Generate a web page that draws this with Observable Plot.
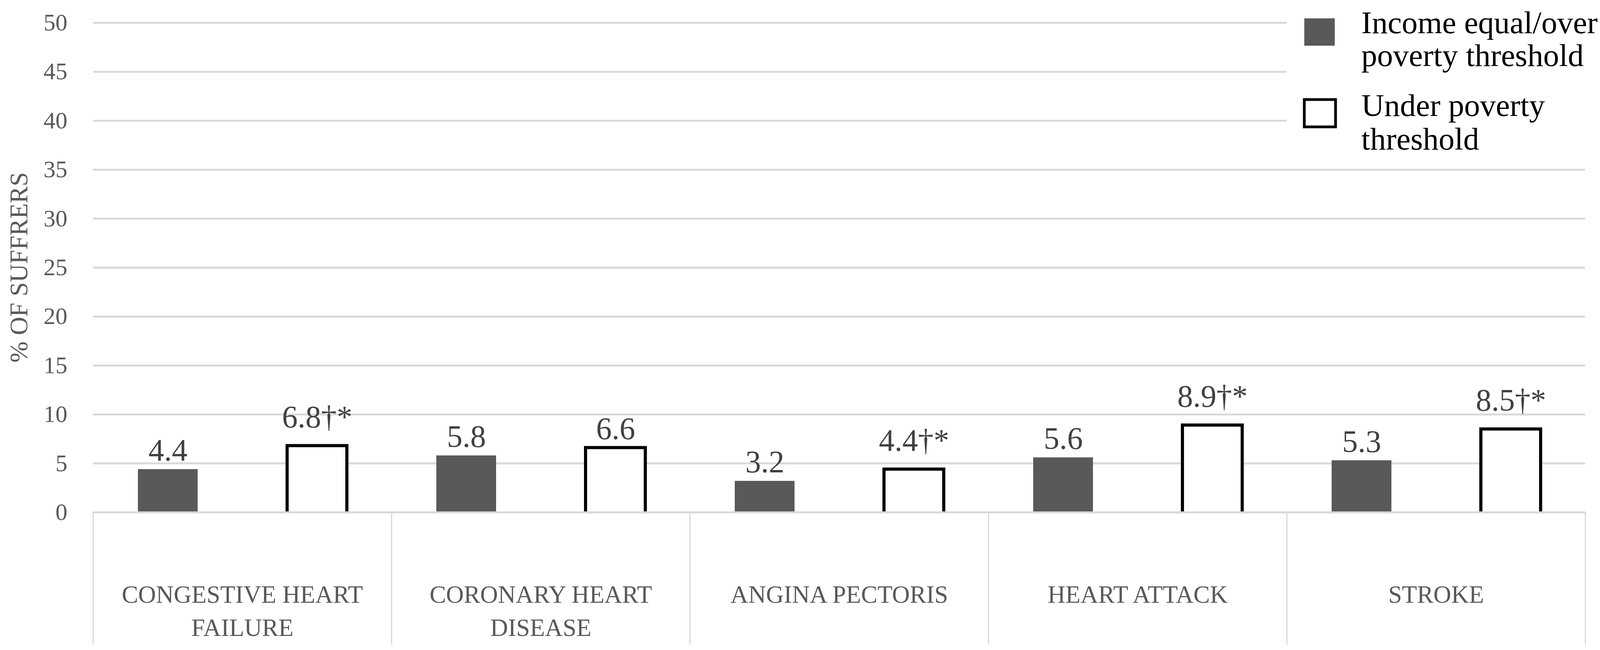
<!DOCTYPE html>
<html>
<head>
<meta charset="utf-8">
<script src="https://cdn.jsdelivr.net/npm/d3@7"></script>
<script src="https://cdn.jsdelivr.net/npm/@observablehq/plot@0.6"></script>
<style>
  html, body { margin: 0; padding: 0; background: #ffffff; }
  #chart { position: relative; width: 4114px; height: 1665px; }
</style>
</head>
<body>
<div id="chart"></div>
<script>
// ---- data ----
const categories = ["CONGESTIVE HEART FAILURE", "CORONARY HEART DISEASE", "ANGINA PECTORIS", "HEART ATTACK", "STROKE"];
const categoryLabels = ["CONGESTIVE HEART\nFAILURE", "CORONARY HEART\nDISEASE", "ANGINA PECTORIS", "HEART ATTACK", "STROKE"];
const seriesKeys = ["over", "under"];
const seriesNames = ["Income equal/over\npoverty threshold", "Under poverty\nthreshold"];
const overValues = [4.4, 5.8, 3.2, 5.6, 5.3];
const underValues = [6.8, 6.6, 4.4, 8.9, 8.5];
const overLabels = ["4.4", "5.8", "3.2", "5.6", "5.3"];
const underLabels = ["6.8†*", "6.6", "4.4†*", "8.9†*", "8.5†*"];
const yTicks = [0, 5, 10, 15, 20, 25, 30, 35, 40, 45, 50];
const yTitle = "% OF SUFFRERS";

// ---- table built from the arrays ----
const rows = [];
categories.forEach((c, i) => {
  rows.push({category: c, series: "over", value: overValues[i], label: overLabels[i]});
  rows.push({category: c, series: "under", value: underValues[i], label: underLabels[i]});
});
const labelOf = new Map(categories.map((c, i) => [c, categoryLabels[i]]));

const W = 4114, H = 1665;
const mL = 237, mR = 56, mT = 58, mB = 353;
const plotH = H - mT - mB;

const grid = "#d9d9d9";
const dark = "#595959";

const plot = Plot.plot({
  width: W,
  height: H,
  marginLeft: mL,
  marginRight: mR,
  marginTop: mT,
  marginBottom: mB,
  style: {fontFamily: "'Liberation Serif', serif", background: "#ffffff"},
  fx: {domain: categories, padding: 0, axis: null, label: null},
  x: {domain: seriesKeys, paddingInner: 0.6, paddingOuter: 0.3, axis: null, label: null},
  y: {domain: [0, 50], axis: null, label: null},
  marks: [
    Plot.gridY(yTicks.filter(d => d > 0), {stroke: grid, strokeOpacity: 1, strokeWidth: 5}),
    Plot.barY(rows.filter(d => d.series === "over"), {fx: "category", x: "series", y: "value", fill: dark}),
    Plot.barY(rows.filter(d => d.series === "under"), {
      fx: "category", x: "series", y: "value",
      fill: "#ffffff", stroke: "#000000", strokeWidth: 8, insetBottom: -8, clip: "frame"
    }),
    Plot.ruleY([0], {stroke: grid, strokeWidth: 5}),
    Plot.frame({anchor: "left", stroke: grid, strokeWidth: 3, insetTop: plotH, insetBottom: -337}),
    Plot.frame({anchor: "right", stroke: grid, strokeWidth: 3, insetTop: plotH, insetBottom: -337}),
    Plot.text(rows.filter(d => !d.label.includes("†")), {
      fx: "category", x: "series", y: "value", text: "label",
      lineAnchor: "bottom", dy: -22, fontSize: 80, fill: "#404040"
    }),
    Plot.text(rows.filter(d => d.label.includes("†")), {
      fx: "category", x: "series", y: "value", text: "label",
      lineAnchor: "bottom", dy: -47, fontSize: 80, fill: "#404040"
    }),
    Plot.text(categories, {
      fx: d => d, text: d => labelOf.get(d),
      frameAnchor: "bottom", lineAnchor: "top", dy: 171,
      fontSize: 63, lineHeight: 1.35, fill: dark
    }),
    Plot.axisY(yTicks, {
      anchor: "left", tickSize: 0, tickPadding: 66, fontSize: 61, fill: dark, label: null
    })
  ]
});

document.getElementById("chart").appendChild(plot);

const svg = d3.select(plot);

// ---- y axis title ----
svg.append("text")
  .attr("transform", `translate(${48},${mT + plotH / 2}) rotate(-90)`)
  .attr("text-anchor", "middle")
  .attr("dominant-baseline", "central")
  .attr("font-family", "'Liberation Serif', serif")
  .attr("font-size", 65)
  .attr("fill", dark)
  .text(yTitle);

// ---- legend (top right, on a white box over the grid) ----
const lg = svg.append("g")
  .attr("font-family", "'Liberation Serif', serif")
  .attr("font-size", 81)
  .attr("text-anchor", "start")
  .attr("fill", "#000000");
lg.append("rect").attr("x", 3294).attr("y", 0).attr("width", W - 3294).attr("height", 390).attr("fill", "#ffffff");
lg.append("rect").attr("x", 3339).attr("y", 47).attr("width", 78).attr("height", 70).attr("fill", dark);
lg.append("rect").attr("x", 3339).attr("y", 255).attr("width", 80).attr("height", 70)
  .attr("fill", "#ffffff").attr("stroke", "#000000").attr("stroke-width", 7);
const legendLines = [
  [seriesNames[0].split("\n")[0], 85],
  [seriesNames[0].split("\n")[1], 169],
  [seriesNames[1].split("\n")[0], 297],
  [seriesNames[1].split("\n")[1], 383]
];
legendLines.forEach(([t, y]) => {
  lg.append("text").attr("x", 3485).attr("y", y).attr("text-anchor", "start").text(t);
});
</script>
</body>
</html>
